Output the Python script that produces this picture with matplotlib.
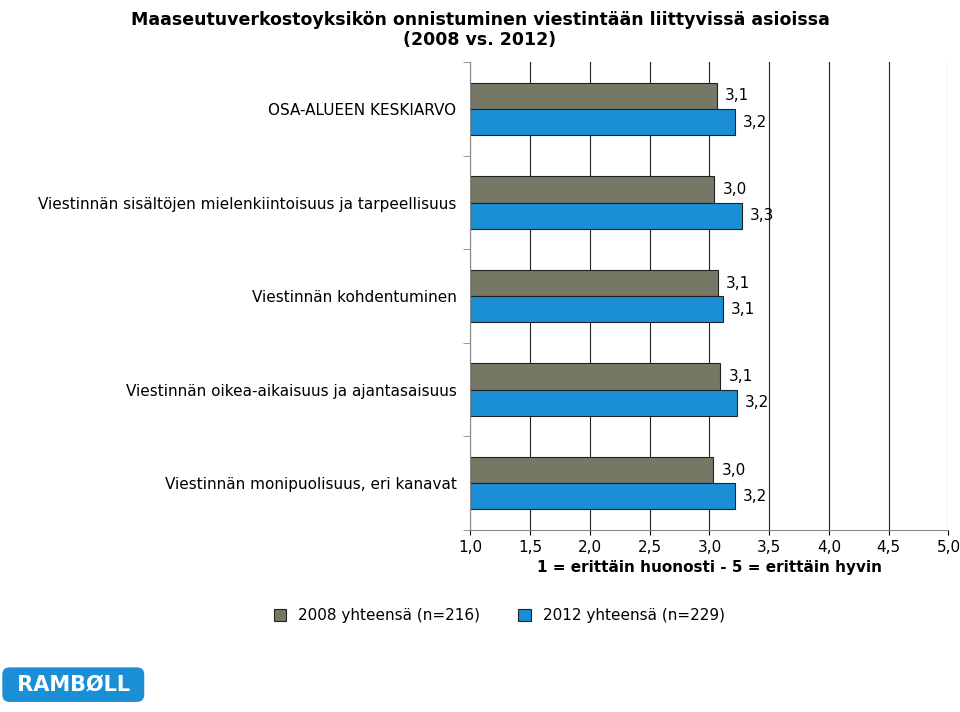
import matplotlib
matplotlib.use("Agg")
import matplotlib.pyplot as plt
import numpy as np

categories = ["OSA-ALUEEN KESKIARVO",
              "Viestinnän sisältöjen mielenkiintoisuus ja tarpeellisuus",
              "Viestinnän kohdentuminen",
              "Viestinnän oikea-aikaisuus ja ajantasaisuus",
              "Viestinnän monipuolisuus, eri kanavat"]
v2008 = [3.06, 3.04, 3.07, 3.09, 3.03]
v2012 = [3.21, 3.27, 3.11, 3.23, 3.21]
ticks = [1.0, 1.5, 2.0, 2.5, 3.0, 3.5, 4.0, 4.5, 5.0]

fig = plt.figure(figsize=(9.6, 7.12), dpi=100)
ax = fig.add_axes([0.49, 0.2556, 0.498, 0.657])
y = np.arange(len(categories))
h = 0.28
b1 = ax.barh(y - h/2, np.array(v2008) - 1, left=1, height=h, color="#777766", edgecolor="#222222", lw=0.8, label="2008 yhteensä (n=216)")
b2 = ax.barh(y + h/2, np.array(v2012) - 1, left=1, height=h, color="#1a8fd6", edgecolor="#222222", lw=0.8, label="2012 yhteensä (n=229)")
for yi, a, b in zip(y, v2008, v2012):
    ax.text(a + 0.07, yi - h/2, f"{a:.1f}".replace(".", ","), va="center", fontsize=11)
    ax.text(b + 0.07, yi + h/2, f"{b:.1f}".replace(".", ","), va="center", fontsize=11)
ax.set_xlim(1, 5)
ax.set_ylim(len(categories) - 0.5, -0.5)
ax.set_xticks(ticks)
ax.set_xticklabels([f"{t:.1f}".replace(".", ",") for t in ticks], fontsize=11)
ax.set_yticks(y)
ax.set_yticklabels(categories, fontsize=11)
ax.tick_params(axis="y", length=0, pad=10)
ax.set_yticks(np.arange(-0.5, len(categories)), minor=True)
ax.tick_params(axis="y", which="minor", length=5, color="#888888")
ax.grid(axis="x", color="#222222", lw=0.8)
ax.set_axisbelow(True)
for s in ["top", "right"]:
    ax.spines[s].set_visible(False)
ax.spines["left"].set_color("#888888")
ax.spines["bottom"].set_color("#888888")
ax.set_xlabel("1 = erittäin huonosti - 5 = erittäin hyvin", fontsize=11, fontweight="bold", labelpad=4)
fig.text(0.5, 0.985, "Maaseutuverkostoyksikön onnistuminen viestintään liittyvissä asioissa\n(2008 vs. 2012)",
         ha="center", va="top", fontsize=12.5, fontweight="bold")
fig.legend(handles=[b1, b2], loc="center", bbox_to_anchor=(0.52, 0.135), ncol=2, frameon=False,
           fontsize=11, handlelength=0.8, handleheight=0.8, columnspacing=2.5)
fig.text(0.01, 0.03, " RAMBØLL ", fontsize=15, fontweight="bold", color="white",
         bbox=dict(boxstyle="round,pad=0.35", fc="#1a8fd6", ec="none"))
fig.savefig("out.png", dpi=100)
